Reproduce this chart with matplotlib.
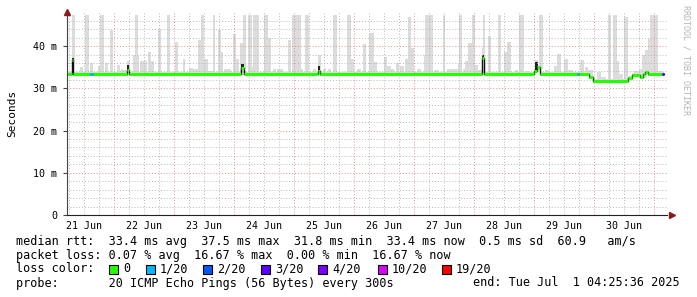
import matplotlib
matplotlib.use('Agg')
import matplotlib.pyplot as plt
from matplotlib.patches import Rectangle

W, H = 697, 297

# smoke bars, hours since 21 Jun 00:00, value in ms
smoke_start = [7.2, 10.4, 12.4, 14.4, 17.6, 18.4, 20.4, 22.4, 25.2, 26.8, 27.6, 29.2, 31.6, 32.4,
               34.4, 35.6, 37.6, 38.4, 41.6, 45.2, 48.4, 51.6, 54.0, 55.6, 57.6, 58.8, 60.0, 61.6,
               63.6, 65.6, 66.4, 68.0, 71.6, 72.4, 74.4, 75.6, 77.6, 78.8, 79.6, 84.0, 85.2, 87.6,
               89.2, 93.6, 95.2, 96.0, 98.4, 100.4, 103.6, 105.6, 107.6, 109.6, 111.6, 117.2, 118.4,
               121.2, 123.6, 126.0, 127.6, 132.0, 133.2, 134.8, 136.8, 138.4, 140.4, 141.6, 142.8,
               145.2, 148.0, 148.4, 149.6, 152.0, 155.6, 157.2, 159.6, 161.6, 162.0, 163.6, 164.4,
               165.6, 167.2, 168.0, 169.6, 171.2, 171.6, 173.6, 177.6, 180.0, 181.2, 184.4, 186.0,
               188.4, 192.4, 193.6, 194.0, 196.4, 200.0, 201.2, 204.0, 205.2, 210.4, 212.4, 213.6,
               217.2, 218.4, 221.6, 223.6, 223.6, 226.0, 228.0, 232.0, 234.0, 235.2, 236.4, 237.6,
               238.4, 240.0, 241.2]
smoke_end = [8.4, 11.6, 14.0, 15.6, 18.8, 20.0, 21.6, 23.6, 26.4, 27.6, 28.8, 30.4, 34.0, 33.6,
             35.6, 37.2, 38.8, 40.0, 42.8, 46.4, 49.6, 52.4, 55.6, 57.6, 58.8, 60.0, 61.6, 63.6,
             64.4, 66.8, 67.6, 70.8, 72.8, 74.0, 76.0, 76.8, 79.2, 80.0, 82.0, 85.6, 86.8, 88.8,
             91.6, 94.8, 96.0, 98.8, 99.6, 102.0, 104.8, 106.8, 108.8, 110.8, 113.2, 118.8, 120.0,
             122.8, 124.8, 128.0, 129.2, 133.2, 134.8, 136.0, 138.0, 140.0, 141.6, 142.8, 144.0,
             146.8, 149.6, 149.6, 151.6, 154.0, 156.4, 159.6, 161.6, 162.8, 163.2, 164.8, 166.0,
             167.6, 168.4, 169.6, 171.2, 172.0, 172.4, 174.8, 178.8, 181.6, 182.8, 185.6, 188.0,
             190.0, 193.6, 194.8, 195.6, 198.0, 202.4, 202.8, 205.6, 207.6, 212.0, 213.6, 215.6,
             218.8, 220.8, 222.8, 225.2, 226.0, 227.6, 229.6, 234.4, 235.6, 237.2, 238.0, 239.6,
             240.0, 241.6, 243.2]
smoke_top = [47.5, 35.1, 47.5, 36.0, 35.4, 47.5, 35.9, 43.8, 35.5, 34.5, 34.4, 36.6, 37.8, 47.5,
             36.5, 36.5, 38.6, 36.5, 44.0, 47.5, 41.0, 37.0, 34.8, 34.5, 41.5, 47.5, 37.0, 34.0,
             47.5, 43.8, 38.6, 34.5, 43.0, 37.0, 40.7, 47.5, 47.5, 35.0, 47.5, 47.5, 42.0, 34.5,
             34.5, 41.5, 47.5, 47.5, 34.5, 47.5, 34.7, 38.0, 34.7, 34.7, 47.5, 47.5, 36.9,
             34.7, 40.5, 43.1, 36.3, 37.4, 35.2, 34.5, 36.0, 35.2, 37.0, 47.0, 39.6,
             34.5, 38.0, 47.5, 47.5, 34.4, 47.5, 34.5, 34.5, 36.0, 47.5, 34.5, 36.5,
             40.7, 47.5, 35.5, 34.4, 39.5, 47.5, 42.5, 47.5, 38.6, 41.0, 34.4, 47.5,
             34.2, 36.7, 34.4, 47.5, 34.4, 35.3, 38.2, 37.0, 34.4, 36.8, 35.0, 34.3,
             33.9, 32.7, 47.5, 47.5, 36.5, 33.3, 46.9, 34.2, 34.7, 38.0, 39.2, 41.8,
             47.5, 47.5, 34.0]

# dark smoke where most pings jumped together
dark_start = [7.2, 29.2, 74.8, 105.6, 171.2, 192.4]
dark_end = [8.0, 30.0, 76.0, 106.4, 172.0, 193.6]
dark_top = [37.2, 35.6, 35.8, 35.2, 38.0, 36.2]

# median rtt steps
med_start = [5.2, 7.2, 7.6, 14.4, 15.6, 29.2, 30.0, 74.8, 76.0, 105.6, 106.4, 171.2, 172.0,
             192.0, 193.2, 194.4, 209.2, 210.0, 214.0, 215.6, 229.6, 231.2, 234.4, 235.6,
             236.4, 237.6, 243.2]
med_val = [33.4, 36.8, 33.4, 33.4, 33.4, 34.4, 33.4, 34.8, 33.4, 34.1, 33.4, 37.3, 33.4,
           34.2, 35.0, 33.4, 33.4, 33.4, 32.7, 31.8, 32.5, 33.2, 32.8, 33.3,
           33.8, 33.4, 33.4]
med_loss = [0, 0, 0, 1, 0, 0, 0, 0, 0, 0, 0, 0, 0,
            0, 0, 0, 1, 0, 0, 0, 0, 0, 0, 0,
            0, 0, 3]
data_end = 244.0

day_labels = ['21 Jun', '22 Jun', '23 Jun', '24 Jun', '25 Jun',
              '26 Jun', '27 Jun', '28 Jun', '29 Jun', '30 Jun']
y_ticks = [0, 10, 20, 30, 40]
y_labels = ['0', '10 m', '20 m', '30 m', '40 m']

loss_labels = ['0', '1/20', '2/20', '3/20', '4/20', '10/20', '19/20']
loss_colors = ['#26ff00', '#00b8ff', '#0059ff', '#5e00ff', '#7e00ff', '#dd00ff', '#ff0000']

legend_lines = [
    'median rtt:  33.4 ms avg  37.5 ms max  31.8 ms min  33.4 ms now  0.5 ms sd  60.9   am/s',
    'packet loss: 0.07 % avg  16.67 % max  0.00 % min  16.67 % now',
]
probe_text = 'probe:       20 ICMP Echo Pings (56 Bytes) every 300s'
end_text = 'end: Tue Jul  1 04:25:36 2025'

MONO = 'DejaVu Sans Mono'
DOTS = (0, (1, 2))


def median_at(h):
    v = med_val[0]
    for s, m in zip(med_start, med_val):
        if s <= h:
            v = m
    return v


fig = plt.figure(figsize=(W / 100, H / 100), dpi=100)
fig.patch.set_facecolor('white')
ax = fig.add_axes([67 / W, (H - 215) / H, 600 / W, 202.6 / H])
ax.set_xlim(5.2, 245.2)
ax.set_ylim(0, 48)

# light band of min/max around the median
xs = med_start + [data_end]
lo = [v - 0.5 for v in med_val] + [med_val[-1] - 0.5]
hi = [v + 0.4 for v in med_val] + [med_val[-1] + 0.4]
ax.fill_between(xs, lo, hi, step='post', color='#dddddd', lw=0, zorder=1)

for s, e, t in zip(smoke_start, smoke_end, smoke_top):
    b = median_at(s) - 0.3
    ax.bar(s, t - b, width=e - s, bottom=b, align='edge', color='#dcdcdc', lw=0, zorder=1)
for s, e, t in zip(dark_start, dark_end, dark_top):
    b = median_at(s) - 0.4
    ax.bar(s, t - b, width=e - s, bottom=b, align='edge', color='#222222', lw=0, zorder=1.5)

# grid drawn over the smoke like rrdtool
for v in range(2, 48, 2):
    col = '#e89090' if v % 10 == 0 else '#b8b8b8'
    ax.axhline(v, color=col, lw=0.7, ls=DOTS, zorder=2)
for hr in range(6, 246, 6):
    col = '#e89090' if hr % 24 == 0 else '#b8b8b8'
    ax.axvline(hr, color=col, lw=0.7, ls=DOTS, zorder=2)

# median line: black connectors, coloured steps by loss
ax.step(xs, med_val + [med_val[-1]], where='post', color='#111111', lw=1, zorder=3)
for i, (s, v, l) in enumerate(zip(med_start, med_val, med_loss)):
    e = med_start[i + 1] if i + 1 < len(med_start) else data_end
    ax.hlines(v, s, e, color=loss_colors[l], lw=2.2, zorder=4)

for side in ['top', 'right']:
    ax.spines[side].set_visible(False)
ax.spines['left'].set_color('#444444')
ax.spines['bottom'].set_color('#222222')
ax.spines['left'].set_zorder(5)
ax.spines['bottom'].set_zorder(5)

ax.set_xticks([12 + 24 * i for i in range(len(day_labels))])
ax.set_xticklabels(day_labels, family=MONO, fontsize=7.2)
ax.set_yticks(y_ticks)
ax.set_yticklabels(y_labels, family=MONO, fontsize=7.2)
ax.tick_params(axis='x', length=0, pad=4)
ax.tick_params(axis='y', length=3, width=0.8, color='#444444', pad=4)
ax.set_ylabel('Seconds', family=MONO, fontsize=8)
ax.yaxis.set_label_coords(-50 / 600, 0.5)

ax.plot([0], [1.0], marker='^', color='#8b1a1a', markersize=4.5, transform=ax.transAxes,
        clip_on=False, zorder=6)
ax.plot([1.008], [0], marker='>', color='#8b1a1a', markersize=4.5, transform=ax.transAxes,
        clip_on=False, zorder=6)

fig.text(686 / W, 1 - 60 / H, 'RRDTOOL / TOBI OETIKER', rotation=270, color='#b4b4b4',
         family=MONO, fontsize=6, ha='center', va='center')

fig.text(16 / W, 1 - 241 / H, legend_lines[0], family=MONO, fontsize=8.5, va='center')
fig.text(16 / W, 1 - 255 / H, legend_lines[1], family=MONO, fontsize=8.5, va='center')
fig.text(16 / W, 1 - 269 / H, 'loss color:', family=MONO, fontsize=8.5, va='center')
box_x = [109, 146, 203, 261, 318, 378, 442]
for bx, lab, col in zip(box_x, loss_labels, loss_colors):
    fig.add_artist(Rectangle((bx / W, 1 - 273.5 / H), 8.5 / W, 8.5 / H, facecolor=col,
                             edgecolor='black', lw=0.8, transform=fig.transFigure))
    fig.text((bx + 14) / W, 1 - 269 / H, lab, family=MONO, fontsize=8.5, va='center')
fig.text(16 / W, 1 - 283 / H, probe_text, family=MONO, fontsize=8.5, va='center')
fig.text(680 / W, 1 - 283 / H, end_text, family=MONO, fontsize=8.5, va='center', ha='right')

fig.savefig('out.png', dpi=100, facecolor='white')
